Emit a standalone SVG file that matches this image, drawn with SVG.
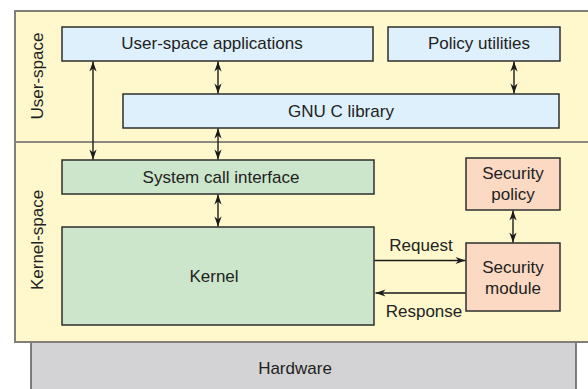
<svg xmlns="http://www.w3.org/2000/svg" width="588" height="389" viewBox="0 0 588 389">
  <defs>
    <marker id="head" viewBox="-11 -5 12 10" refX="0" refY="0" markerWidth="12" markerHeight="10" markerUnits="userSpaceOnUse" orient="auto-start-reverse">
      <path d="M0,0 L-10,-3.6 L-7,0 L-10,3.6 Z" fill="#1a1a1a"/>
    </marker>
  </defs>
  <style>
    text { font-family: "Liberation Sans", Arial, Helvetica, sans-serif; font-size: 17px; fill: #222; }
    .mid { text-anchor: middle; }
    .box { stroke: #2e2e2e; stroke-width: 1.5; }
    .user { fill: #def0fb; }
    .kern { fill: #cce6cb; }
    .sec { fill: #fbd9c2; }
    .link { stroke: #1a1a1a; stroke-width: 1.4; fill: none; }
    .two { marker-start: url(#head); marker-end: url(#head); }
    .one { marker-end: url(#head); }
  </style>

  <rect width="588" height="389" fill="#ffffff"/>

  <!-- hardware layer below the system panel -->
  <g id="hardware">
    <rect x="31" y="342" width="545" height="60" fill="#d3d3d5" stroke="#5a5a5a" stroke-width="1.5"/>
    <text class="mid" x="295" y="374">Hardware</text>
  </g>

  <!-- system panel split into user and kernel space -->
  <g id="panel">
    <rect x="15" y="11" width="590" height="331" fill="#fff8cc" stroke="#808078" stroke-width="2"/>
    <line x1="15" y1="142" x2="588" y2="142" stroke="#8a8a7e" stroke-width="2"/>
    <text class="mid" transform="translate(43,76) rotate(-90)">User-space</text>
    <text class="mid" transform="translate(43,240) rotate(-90)">Kernel-space</text>
  </g>

  <g id="user-apps">
    <rect class="box user" x="62" y="27" width="311" height="34"/>
    <text class="mid" x="212" y="49">User-space applications</text>
  </g>

  <g id="policy-utils">
    <rect class="box user" x="388" y="27" width="172" height="34"/>
    <text class="mid" x="479" y="49">Policy utilities</text>
  </g>

  <g id="glibc">
    <rect class="box user" x="123" y="94" width="436" height="34"/>
    <text class="mid" x="341" y="117">GNU C library</text>
  </g>

  <g id="syscall">
    <rect class="box kern" x="62" y="160" width="312" height="34"/>
    <text class="mid" x="221" y="183">System call interface</text>
  </g>

  <g id="kernel">
    <rect class="box kern" x="62" y="227" width="312" height="98"/>
    <text class="mid" x="214" y="282">Kernel</text>
  </g>

  <g id="sec-policy">
    <rect class="box sec" x="466" y="158" width="94" height="52"/>
    <text class="mid" x="513" y="179">Security</text>
    <text class="mid" x="513" y="200">policy</text>
  </g>

  <g id="sec-module">
    <rect class="box sec" x="466" y="243" width="94" height="68"/>
    <text class="mid" x="513" y="273">Security</text>
    <text class="mid" x="513" y="294">module</text>
  </g>

  <g id="connectors">
    <line class="link two" x1="93" y1="61.5" x2="93" y2="159.5"/>
    <line class="link two" x1="218" y1="61.5" x2="218" y2="93.5"/>
    <line class="link two" x1="218" y1="128.5" x2="218" y2="159.5"/>
    <line class="link two" x1="218" y1="194.5" x2="218" y2="226.5"/>
    <line class="link two" x1="514" y1="61.5" x2="514" y2="93.5"/>
    <line class="link two" x1="513" y1="210.5" x2="513" y2="242.5"/>
    <line class="link one" x1="374.5" y1="260.5" x2="465.5" y2="260.5"/>
    <line class="link one" x1="465.5" y1="293" x2="375.5" y2="293"/>
    <text class="mid" x="421" y="251">Request</text>
    <text class="mid" x="424" y="317">Response</text>
  </g>
</svg>
